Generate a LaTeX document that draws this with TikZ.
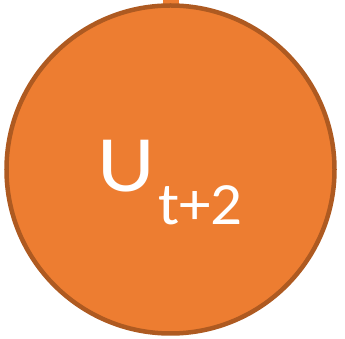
\documentclass[tikz,border=0pt]{standalone}
\usepackage{fontspec}
\setmainfont{Carlito}
\usepackage{tikz}
\usetikzlibrary{positioning}
\definecolor{UOrange}{RGB}{237, 125, 49}
\definecolor{UOrangeDark}{RGB}{174, 90, 33}

\begin{document}
\begin{tikzpicture}[x=1pt,y=1pt]
	\useasboundingbox (0,0) rectangle (345,339);
	\fill[UOrange] (163,339) rectangle (179,330);
	\node[circle, fill=UOrange, draw=UOrangeDark, line width=4.5pt,
		minimum size=328pt, inner sep=0pt] (ut2) at (170.5,169.5) {};
	\node[text=white, font=\fontsize{80}{82}\selectfont, inner sep=0pt,
		anchor=base west] (ulabel) at (97,147) {\scalebox{1.12}[1]{U}};
	\node[text=white, font=\fontsize{60}{62}\selectfont, inner sep=0pt,
		anchor=base west] (sublabel) at (158,114) {\scalebox{1.05}[1]{t+2}};
\end{tikzpicture}
\end{document}
